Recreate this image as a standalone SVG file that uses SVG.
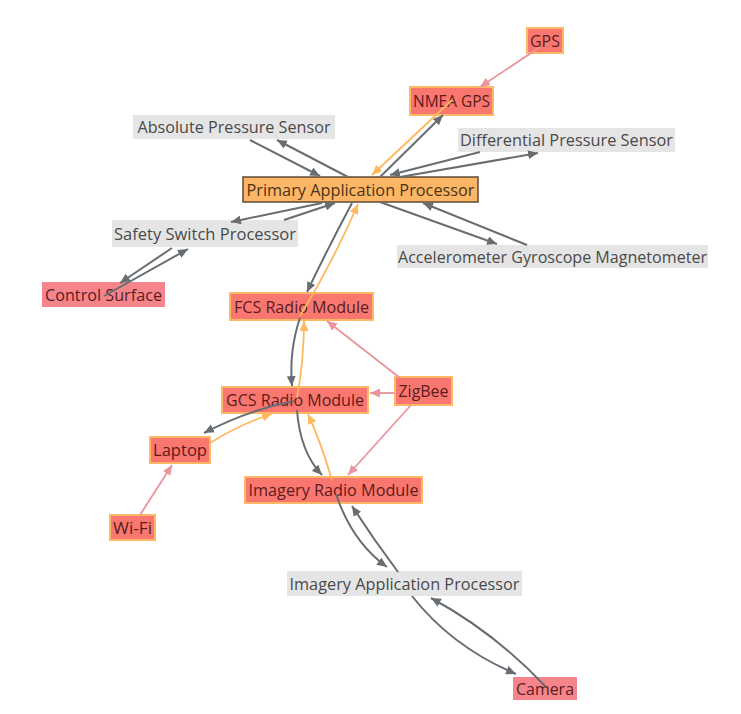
<svg xmlns="http://www.w3.org/2000/svg" width="741" height="714" viewBox="0 0 741 714">
  <style>
    .lbl { font-family: "Open Sans", "Noto Sans", sans-serif; font-size: 15.5px; dominant-baseline: central; text-anchor: middle; }
    .gray rect { fill: #e5e5e5; }
    .gray text { fill: #4a4a4a; }
    .red rect { fill: #fa7770; stroke: #ffb866; stroke-width: 2; }
    .red text { fill: #5a1c1c; }
    .pink rect { fill: #f6848b; }
    .pink text { fill: #5a1c1c; }
    .main rect { fill: #fdb665; stroke: #5b4a33; stroke-width: 1.5; }
    .main text { fill: #4a3516; }
    .e { fill: none; }
    .eg { stroke: #686d72; stroke-width: 2; marker-end: url(#ag); }
    .ep { stroke: #ea949b; stroke-width: 1.8; marker-end: url(#ap); }
    .eo { stroke: #ffb85e; stroke-width: 1.8; marker-end: url(#ao); }
  </style>
  <defs>
    <marker id="ag" markerUnits="userSpaceOnUse" markerWidth="11" markerHeight="9" refX="10" refY="4.5" orient="auto">
      <path d="M0,0 L10,4.5 L0,9 z" fill="#686d72"/>
    </marker>
    <marker id="ap" markerUnits="userSpaceOnUse" markerWidth="11" markerHeight="9" refX="10" refY="4.5" orient="auto">
      <path d="M0,0 L10,4.5 L0,9 z" fill="#ea949b"/>
    </marker>
    <marker id="ao" markerUnits="userSpaceOnUse" markerWidth="11" markerHeight="9" refX="10" refY="4.5" orient="auto">
      <path d="M0,0 L10,4.5 L0,9 z" fill="#ffb85e"/>
    </marker>
  </defs>
  <rect width="741" height="714" fill="#ffffff"/>

  <g id="nodes">
    <g id="gps" class="red"><rect x="527" y="28" width="36" height="25"/><text class="lbl" x="545" y="40.5" textLength="30" lengthAdjust="spacingAndGlyphs">GPS</text></g>
    <g id="nmea-gps" class="red"><rect x="410" y="87" width="83" height="28"/><text class="lbl" x="451.5" y="101" textLength="77" lengthAdjust="spacingAndGlyphs">NMEA GPS</text></g>
    <g id="abs-pressure" class="gray"><rect x="133" y="115" width="202" height="24"/><text class="lbl" x="234" y="127" textLength="193" lengthAdjust="spacingAndGlyphs">Absolute Pressure Sensor</text></g>
    <g id="diff-pressure" class="gray"><rect x="458" y="128" width="217" height="24"/><text class="lbl" x="566.5" y="140" textLength="213" lengthAdjust="spacingAndGlyphs">Differential Pressure Sensor</text></g>
    <g id="primary" class="main"><rect x="243" y="177" width="235" height="25"/><text class="lbl" x="360.5" y="189.5" textLength="228" lengthAdjust="spacingAndGlyphs">Primary Application Processor</text></g>
    <g id="safety-switch" class="gray"><rect x="112" y="220" width="186" height="27"/><text class="lbl" x="205" y="233.5" textLength="182" lengthAdjust="spacingAndGlyphs">Safety Switch Processor</text></g>
    <g id="imu" class="gray"><rect x="397" y="245" width="311" height="23"/><text class="lbl" x="552.5" y="256.5" textLength="309" lengthAdjust="spacingAndGlyphs">Accelerometer Gyroscope Magnetometer</text></g>
    <g id="control-surface" class="pink"><rect x="42" y="282" width="123" height="25"/><text class="lbl" x="103.5" y="294.5" textLength="117" lengthAdjust="spacingAndGlyphs">Control Surface</text></g>
    <g id="fcs-radio" class="red"><rect x="230" y="293" width="143" height="27"/><text class="lbl" x="301.5" y="306.5" textLength="135" lengthAdjust="spacingAndGlyphs">FCS Radio Module</text></g>
    <g id="gcs-radio" class="red"><rect x="222" y="387" width="146" height="26"/><text class="lbl" x="295" y="400" textLength="138" lengthAdjust="spacingAndGlyphs">GCS Radio Module</text></g>
    <g id="zigbee" class="red"><rect x="395" y="377" width="57" height="28"/><text class="lbl" x="423.5" y="391" textLength="50" lengthAdjust="spacingAndGlyphs">ZigBee</text></g>
    <g id="laptop" class="red"><rect x="150" y="437" width="60" height="26"/><text class="lbl" x="180" y="450" textLength="54" lengthAdjust="spacingAndGlyphs">Laptop</text></g>
    <g id="imagery-radio" class="red"><rect x="245" y="477" width="177" height="26"/><text class="lbl" x="333.5" y="490" textLength="170" lengthAdjust="spacingAndGlyphs">Imagery Radio Module</text></g>
    <g id="wifi" class="red"><rect x="110" y="515" width="45" height="25"/><text class="lbl" x="132.5" y="527.5" textLength="39" lengthAdjust="spacingAndGlyphs">Wi-Fi</text></g>
    <g id="imagery-app" class="gray"><rect x="287" y="571" width="235" height="25"/><text class="lbl" x="404.5" y="583.5" textLength="230" lengthAdjust="spacingAndGlyphs">Imagery Application Processor</text></g>
    <g id="camera" class="pink"><rect x="513" y="677" width="64" height="23"/><text class="lbl" x="545" y="688.5" textLength="58" lengthAdjust="spacingAndGlyphs">Camera</text></g>
  </g>

  <g id="connectors" class="e">
    <!-- GPS chain -->
    <path class="e ep" d="M540,47 L480,87"/>
    <path class="e eg" d="M380,177 L443,115"/>
    <path class="e eo" d="M452,100 L372,175"/>
    <!-- pressure sensors -->
    <path class="e eg" d="M250,140 L320,176"/>
    <path class="e eg" d="M348,177 L277,140"/>
    <path class="e eg" d="M480,152 L390,175"/>
    <path class="e eg" d="M400,177 L538,153"/>
    <!-- inertial sensors -->
    <path class="e eg" d="M380,202 L497,244"/>
    <path class="e eg" d="M527,245 L423,203"/>
    <!-- safety switch and control surface -->
    <path class="e eg" d="M322,203 L231,222"/>
    <path class="e eg" d="M284,220 L335,203"/>
    <path class="e eg" d="M172,248 L120,283"/>
    <path class="e eg" d="M104,296 L188,249"/>
    <!-- radio links -->
    <path class="e eg" d="M352,203 Q328,248 307,292"/>
    <path class="e eo" d="M300,316 Q333,262 358,204"/>
    <path class="e eg" d="M300,318 Q289,350 292,386"/>
    <path class="e eo" d="M297,398 Q304,360 304,321"/>
    <path class="e ep" d="M400,378 L327,321"/>
    <path class="e ep" d="M395,393 L370,393"/>
    <path class="e ep" d="M411,405 L348,475"/>
    <path class="e eg" d="M294,401 Q248,410 204,433"/>
    <path class="e eo" d="M210,443 Q240,424 272,414"/>
    <path class="e eg" d="M297,410 Q300,452 322,475"/>
    <path class="e eo" d="M332,480 Q320,440 308,414"/>
    <path class="e ep" d="M140,515 L172,465"/>
    <!-- imagery chain -->
    <path class="e eg" d="M336,494 Q352,542 387,567"/>
    <path class="e eg" d="M398,572 Q374,540 352,506"/>
    <path class="e eg" d="M412,596 Q452,647 516,674"/>
    <path class="e eg" d="M545,686 Q494,632 431,598"/>
  </g>
</svg>
